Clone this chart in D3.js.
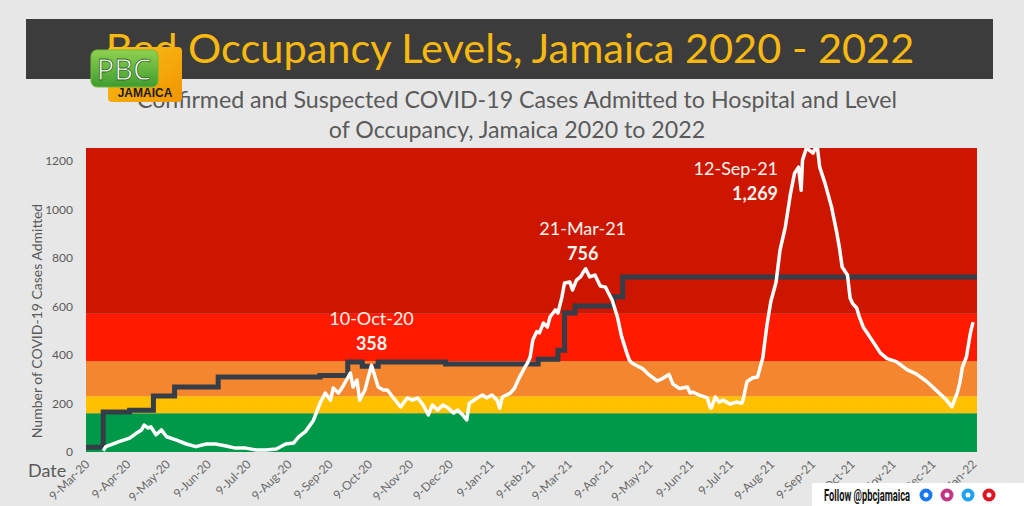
<!DOCTYPE html>
<html>
<head>
<meta charset="utf-8">
<title>Bed Occupancy Levels, Jamaica 2020 - 2022</title>
<script src="https://d3js.org/d3.v7.min.js"></script>
<style>
  body { margin: 0; background: #e7e7e7; }
  svg { display: block; font-family: Lato, "Open Sans", sans-serif; }
</style>
</head>
<body>
<div id="chart"></div>
<script>
// occupancy levels: lower bound of each coloured band
var bandLevels = [0, 160, 230, 375, 570];
var bandColors = ["#00994a", "#ffc000", "#f4862f", "#ff1a00", "#cc1600"];
var yTicks = [0, 200, 400, 600, 800, 1000, 1200];

// bed capacity (dark step line)
var bedDates = ["2020-03-08", "2020-03-21", "2020-04-10", "2020-04-28", "2020-05-14",
    "2020-06-16", "2020-09-01", "2020-09-22", "2020-10-03", "2020-10-15", "2020-12-05",
    "2021-02-13", "2021-02-28", "2021-03-05", "2021-03-13", "2021-04-11", "2021-04-18",
    "2022-01-11"];
var bedValues = [20, 165, 172, 231, 268, 309, 316, 371, 354, 371, 363,
    383, 420, 573, 602, 640, 722, 722];

// confirmed + suspected cases admitted (white line)
var admitDates = [
    "2020-03-21", "2020-03-23", "2020-04-02", "2020-04-10", "2020-04-15", "2020-04-19",
    "2020-04-21", "2020-04-24", "2020-04-26", "2020-04-30", "2020-05-04", "2020-05-08",
    "2020-05-15", "2020-05-23", "2020-05-30", "2020-06-07", "2020-06-14", "2020-06-22",
    "2020-06-29", "2020-07-07", "2020-07-15", "2020-07-22", "2020-07-30", "2020-08-06",
    "2020-08-12", "2020-08-16", "2020-08-21", "2020-08-27", "2020-09-01", "2020-09-05",
    "2020-09-09", "2020-09-11", "2020-09-15", "2020-09-18", "2020-09-21", "2020-09-24",
    "2020-09-26", "2020-09-29", "2020-10-01", "2020-10-05", "2020-10-09", "2020-10-10",
    "2020-10-15", "2020-10-19", "2020-10-22", "2020-10-26", "2020-11-01", "2020-11-06",
    "2020-11-10", "2020-11-14", "2020-11-18", "2020-11-22", "2020-11-25", "2020-11-29",
    "2020-12-03", "2020-12-07", "2020-12-11", "2020-12-14", "2020-12-18", "2020-12-21",
    "2020-12-23", "2020-12-29", "2021-01-02", "2021-01-05", "2021-01-09", "2021-01-13",
    "2021-01-15", "2021-01-17", "2021-01-23", "2021-01-26", "2021-01-30", "2021-02-03",
    "2021-02-05", "2021-02-07", "2021-02-09", "2021-02-12", "2021-02-14", "2021-02-17",
    "2021-02-20", "2021-02-22", "2021-02-26", "2021-02-28", "2021-03-03", "2021-03-05",
    "2021-03-09", "2021-03-11", "2021-03-14", "2021-03-17", "2021-03-19", "2021-03-21",
    "2021-03-24", "2021-03-28", "2021-04-01", "2021-04-05", "2021-04-07", "2021-04-10",
    "2021-04-14", "2021-04-17", "2021-04-21", "2021-04-23", "2021-04-25", "2021-04-29",
    "2021-05-03", "2021-05-08", "2021-05-14", "2021-05-18", "2021-05-23", "2021-05-26",
    "2021-05-31", "2021-06-06", "2021-06-08", "2021-06-10", "2021-06-15", "2021-06-21",
    "2021-06-23", "2021-06-24", "2021-06-27", "2021-06-30", "2021-07-03", "2021-07-08",
    "2021-07-13", "2021-07-17", "2021-07-18", "2021-07-21", "2021-07-25", "2021-07-29",
    "2021-07-30", "2021-08-02", "2021-08-05", "2021-08-08", "2021-08-12", "2021-08-15",
    "2021-08-19", "2021-08-23", "2021-08-26", "2021-08-29", "2021-08-31", "2021-09-01",
    "2021-09-04", "2021-09-09", "2021-09-12", "2021-09-14", "2021-09-18", "2021-09-23",
    "2021-09-27", "2021-09-29", "2021-10-01", "2021-10-05", "2021-10-07", "2021-10-09",
    "2021-10-12", "2021-10-14", "2021-10-17", "2021-10-20", "2021-10-22", "2021-10-27",
    "2021-10-30", "2021-11-04", "2021-11-11", "2021-11-19", "2021-11-26", "2021-12-04",
    "2021-12-12", "2021-12-19", "2021-12-23", "2021-12-27", "2021-12-29", "2021-12-31",
    "2022-01-03", "2022-01-06", "2022-01-08"];
var admitCases = [
    5, 22, 43, 57, 77, 91,
    111, 99, 104, 71, 91, 63,
    50, 33, 22, 33, 33, 25,
    16, 16, 8, 8, 12, 33,
    37, 63, 84, 130, 201, 243,
    214, 264, 243, 268, 297, 326,
    268, 297, 214, 256, 338, 358,
    268, 256, 256, 227, 186, 223,
    214, 223, 194, 153, 194, 173,
    194, 181, 161, 173, 153, 132,
    201, 223, 235, 223, 235, 214,
    181, 227, 243, 262, 309, 350,
    367, 392, 462, 497, 491, 532,
    515, 557, 586, 573, 639, 697,
    701, 668, 709, 722, 740, 756,
    722, 730, 685, 680, 658, 627,
    557, 480, 410, 379, 367, 355,
    344, 318, 293, 303, 320, 280,
    262, 268, 243, 247, 235, 223,
    186, 181, 227, 206, 214, 198,
    206, 201, 214, 290, 305, 309,
    330, 390, 520, 620, 700, 833,
    928, 1068, 1150, 1175, 1080, 1204,
    1254, 1233, 1269, 1175, 1109, 1010,
    903, 840, 763, 730, 635, 612,
    594, 557, 515, 491, 474, 433,
    408, 385, 373, 340, 322, 291,
    250, 214, 186, 243, 285, 350,
    392, 491, 536];

// peak call-outs
var peakDates = ["2020-10-10", "2021-03-21", "2021-09-12"];
var peakNames = ["10-Oct-20", "21-Mar-21", "12-Sep-21"];
var peakValues = [358, 756, 1269];

var width = 1024, height = 506;
var plot = {left: 86, right: 977, top: 148, bottom: 452};
var parse = d3.timeParse("%Y-%m-%d");

var svg = d3.select("#chart").append("svg")
    .attr("width", width)
    .attr("height", height);

svg.append("rect").attr("width", width).attr("height", height).attr("fill", "#e7e7e7");

var x = d3.scaleTime()
    .domain([parse("2020-03-08"), parse("2022-01-11")])
    .range([plot.left, plot.right]);
var y = d3.scaleLinear()
    .domain([0, 1254])
    .range([plot.bottom, plot.top]);

// title bar
svg.append("rect")
    .attr("x", 26).attr("y", 19).attr("width", 967).attr("height", 60)
    .attr("fill", "#3c3c3c");
svg.append("text")
    .attr("x", 510).attr("y", 63)
    .attr("text-anchor", "middle")
    .attr("font-size", 41.5)
    .attr("fill", "#f7b90f")
    .text("Bed Occupancy Levels, Jamaica 2020 - 2022");

// subtitle
var sub = svg.append("text")
    .attr("text-anchor", "middle")
    .attr("font-size", 23.2)
    .attr("fill", "#5a5a5a");
sub.append("tspan").attr("x", 517).attr("y", 108)
    .text("Confirmed and Suspected COVID-19 Cases Admitted to Hospital and Level");
sub.append("tspan").attr("x", 517).attr("y", 138)
    .text("of Occupancy, Jamaica 2020 to 2022");

// bands
var bands = bandLevels.map(function(lo, i) {
    return {lo: lo, hi: i < bandLevels.length - 1 ? bandLevels[i + 1] : y.domain()[1], color: bandColors[i]};
});
svg.append("g").selectAll("rect")
    .data(bands)
    .enter()
    .append("rect")
    .attr("x", plot.left)
    .attr("width", plot.right - plot.left)
    .attr("y", function(d) { return y(d.hi); })
    .attr("height", function(d) { return y(d.lo) - y(d.hi); })
    .attr("fill", function(d) { return d.color; });

svg.append("clipPath").attr("id", "plot-clip")
    .append("rect")
    .attr("x", plot.left).attr("y", plot.top)
    .attr("width", plot.right - plot.left).attr("height", plot.bottom - plot.top);

// lines
var beds = bedDates.map(function(d, i) { return {date: parse(d), value: bedValues[i]}; });
var admits = admitDates.map(function(d, i) { return {date: parse(d), value: admitCases[i]}; });

var lines = svg.append("g").attr("clip-path", "url(#plot-clip)");
lines.append("path")
    .datum(beds)
    .attr("fill", "none")
    .attr("stroke", "#343d48")
    .attr("stroke-width", 5)
    .attr("d", d3.line()
        .curve(d3.curveStepAfter)
        .x(function(d) { return x(d.date); })
        .y(function(d) { return y(d.value); }));
lines.append("path")
    .datum(admits)
    .attr("fill", "none")
    .attr("stroke", "#ffffff")
    .attr("stroke-width", 3.5)
    .attr("stroke-linejoin", "round")
    .attr("d", d3.line()
        .x(function(d) { return x(d.date); })
        .y(function(d) { return y(d.value); }));

// y axis
var yAxis = svg.append("g")
    .attr("transform", "translate(" + plot.left + ",0)")
    .call(d3.axisLeft(y).tickValues(yTicks).tickFormat(d3.format("d")).tickSize(0).tickPadding(13));
yAxis.select(".domain").remove();
yAxis.selectAll("text")
    .attr("font-family", "Lato, sans-serif")
    .attr("font-size", 12)
    .attr("fill", "#5a5a5a");

svg.append("text")
    .attr("transform", "translate(42," + ((plot.top + plot.bottom) / 2 + 21) + ") rotate(-90)")
    .attr("text-anchor", "middle")
    .attr("font-size", 14)
    .attr("fill", "#5a5a5a")
    .text("Number of COVID-19 Cases Admitted");

// x axis: ticks on the 9th of every month
var tickDates = d3.timeMonth.range(parse("2020-03-01"), parse("2022-01-02"))
    .map(function(d) { return d3.timeDay.offset(d, 8); });
var fmt = d3.timeFormat("%-d-%b-%y");
svg.append("g").selectAll("text")
    .data(tickDates)
    .enter()
    .append("text")
    .attr("transform", function(d) { return "translate(" + (x(d) + 3) + ",465) rotate(-45)"; })
    .attr("text-anchor", "end")
    .attr("font-size", 12)
    .attr("fill", "#6a6a6a")
    .text(function(d) { return fmt(d); });

svg.append("text")
    .attr("x", 28).attr("y", 477)
    .attr("font-size", 18)
    .attr("fill", "#5a5a5a")
    .text("Date");

// peak labels
var callDx = [0, -3, -39];
var callAnchor = ["middle", "middle", "end"];
var callDy = [[-40, -15], [-34, -9], [0, 0]];
peakDates.forEach(function(d, i) {
    var px = x(parse(d)) + callDx[i];
    var py = Math.max(y(peakValues[i]), plot.top);
    var y1 = i === 2 ? 175 : py + callDy[i][0];
    var y2 = i === 2 ? 200 : py + callDy[i][1];
    svg.append("text")
        .attr("x", px).attr("y", y1)
        .attr("text-anchor", callAnchor[i])
        .attr("font-size", 18)
        .attr("fill", "#fff4ee")
        .text(peakNames[i]);
    svg.append("text")
        .attr("x", px).attr("y", y2)
        .attr("text-anchor", callAnchor[i])
        .attr("font-size", 18)
        .attr("font-weight", "bold")
        .attr("fill", "#fff4ee")
        .text(d3.format(",")(peakValues[i]));
});

// PBC logo
var logo = svg.append("g");
var defs = svg.append("defs");
var gGreen = defs.append("linearGradient").attr("id", "lg-green").attr("x1", 0).attr("y1", 0).attr("x2", 0).attr("y2", 1);
gGreen.append("stop").attr("offset", 0).attr("stop-color", "#8fd14f");
gGreen.append("stop").attr("offset", 1).attr("stop-color", "#3f9c2f");
var gGold = defs.append("linearGradient").attr("id", "lg-gold").attr("x1", 0).attr("y1", 0).attr("x2", 1).attr("y2", 1);
gGold.append("stop").attr("offset", 0).attr("stop-color", "#f9c21a");
gGold.append("stop").attr("offset", 1).attr("stop-color", "#f29400");
logo.append("rect").attr("x", 108).attr("y", 47).attr("width", 74).attr("height", 55)
    .attr("rx", 4).attr("fill", "url(#lg-gold)");
logo.append("rect").attr("x", 91).attr("y", 50).attr("width", 67).attr("height", 37)
    .attr("rx", 6).attr("fill", "url(#lg-green)")
    .attr("stroke", "#6fb83c").attr("stroke-width", 1);
logo.append("text").attr("x", 124).attr("y", 80)
    .attr("text-anchor", "middle")
    .attr("font-family", "'Open Sans', sans-serif")
    .attr("font-size", 29)
    .attr("fill", "#ffffff")
    .attr("stroke", "#2f6b22").attr("stroke-width", 0.8)
    .text("PBC");
logo.append("text").attr("x", 145).attr("y", 97)
    .attr("text-anchor", "middle")
    .attr("font-family", "'Liberation Sans', sans-serif")
    .attr("font-size", 12)
    .attr("font-weight", "bold")
    .attr("fill", "#1a1a1a")
    .text("JAMAICA");

// footer
var foot = svg.append("g");
foot.append("rect").attr("x", 812).attr("y", 483).attr("width", 212).attr("height", 23).attr("fill", "#ffffff");
foot.append("text").attr("x", 824).attr("y", 501)
    .attr("font-family", "'Liberation Sans Narrow', 'Roboto', sans-serif")
    .attr("font-size", 16)
    .attr("font-weight", "bold")
    .attr("textLength", 86)
    .attr("lengthAdjust", "spacingAndGlyphs")
    .attr("fill", "#111111")
    .text("Follow @pbcjamaica");
var icons = [["#1877f2", 926], ["#c13584", 947], ["#1da1f2", 968], ["#e0141e", 989]];
icons.forEach(function(c) {
    foot.append("circle").attr("cx", c[1]).attr("cy", 495).attr("r", 6.5).attr("fill", c[0]);
    foot.append("circle").attr("cx", c[1]).attr("cy", 495).attr("r", 2.5).attr("fill", "#ffffff");
});
</script>
</body>
</html>
